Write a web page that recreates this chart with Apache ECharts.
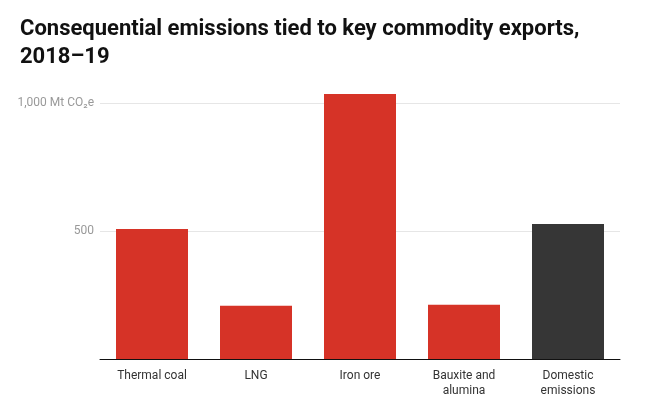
<!DOCTYPE html>
<html lang="en">
<head>
    <meta charset="UTF-8">
    <title>Consequential emissions</title>
    <script src="https://cdn.jsdelivr.net/npm/echarts@6/dist/echarts.min.js"></script>
    <style>
        html, body {margin: 0; padding: 0; background: #fff;}
        #main {width: 653px; height: 398px;}
    </style>
</head>
<body>
    <div id="main"></div>
    <script>
    // data
    var categories = ['Thermal coal', 'LNG', 'Iron ore', 'Bauxite and\nalumina', 'Domestic\nemissions'];
    var values = [507, 208, 1034, 212, 527];
    var barColors = ['#d63327', '#d63327', '#d63327', '#d63327', '#363636'];
    var yTicks = [0, 500, 1000];

    var myChart = echarts.init(document.getElementById('main'));

    var option = {
        backgroundColor: '#fff',
        animation: false,
        title: {
            text: 'Consequential emissions tied to key commodity exports,\n2018–19',
            left: 15,
            top: 10,
            textStyle: {
                fontFamily: 'Roboto',
                fontWeight: 'bold',
                fontSize: 22,
                lineHeight: 28,
                color: '#111'
            }
        },
        grid: {
            left: 100,
            right: 33,
            top: 90,
            bottom: 39
        },
        xAxis: {
            type: 'category',
            data: categories,
            axisLine: {lineStyle: {color: '#111', width: 1}},
            axisTick: {show: false},
            axisLabel: {
                color: '#333',
                fontFamily: 'Roboto',
                fontSize: 12,
                lineHeight: 15,
                margin: 9,
                interval: 0
            }
        },
        yAxis: {
            type: 'value',
            min: 0,
            max: 1050,
            interval: 500,
            axisLine: {show: false},
            axisTick: {show: false},
            splitLine: {
                showMaxLine: false,
                lineStyle: {color: '#e6e6e6'}
            },
            axisLabel: {
                color: '#999',
                fontFamily: 'Roboto',
                fontSize: 12,
                margin: 6,
                showMaxLabel: false,
                formatter: function (v) {
                    if (yTicks.indexOf(v) < 0 || v === 0) return '';
                    if (v === 1000) return '1,000 Mt CO₂e';
                    return String(v);
                }
            }
        },
        series: [{
            type: 'bar',
            barWidth: 72,
            data: values.map(function (v, i) {
                return {value: v, itemStyle: {color: barColors[i]}};
            })
        }]
    };
    myChart.setOption(option);
    </script>
</body>
</html>
